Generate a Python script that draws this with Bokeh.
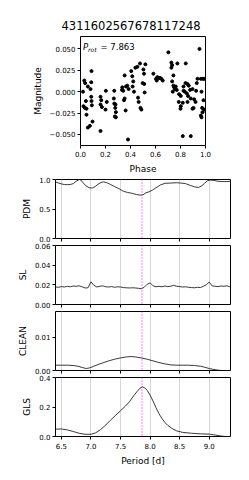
from bokeh.plotting import figure
from bokeh.models import (Range1d, FixedTicker, PrintfTickFormatter, CustomJSTickFormatter,
                          Span, Label, Title)
from bokeh.embed import file_html
from bokeh.resources import INLINE

star_id = "4311602567678117248"
prot = 7.863

# phase-folded light curve
phase = [0.02, 0.03, 0.037, 0.043, 0.024, 0.035, 0.048, 0.059, 0.048, 0.059, 0.075, 0.088, 0.086,
         0.08, 0.086, 0.088, 0.091, 0.096, 0.16, 0.166, 0.16, 0.171, 0.2, 0.203, 0.21, 0.16, 0.27,
         0.267, 0.27, 0.28, 0.278, 0.283, 0.275, 0.283, 0.334, 0.332, 0.342, 0.348, 0.353, 0.361,
         0.353, 0.38, 0.364, 0.374, 0.385, 0.406, 0.414, 0.422, 0.417, 0.428, 0.439, 0.455, 0.46,
         0.476, 0.465, 0.48, 0.487, 0.503, 0.508, 0.497, 0.519, 0.513, 0.51, 0.583, 0.604, 0.615,
         0.626, 0.636, 0.647, 0.658, 0.61, 0.703, 0.727, 0.733, 0.727, 0.743, 0.733, 0.743, 0.749,
         0.754, 0.762, 0.77, 0.775, 0.738, 0.789, 0.802, 0.786, 0.818, 0.802, 0.824, 0.834, 0.842,
         0.84, 0.856, 0.866, 0.85, 0.86, 0.877, 0.882, 0.896, 0.904, 0.92, 0.909, 0.925, 0.93,
         0.952, 0.936, 0.963, 0.979, 0.99, 0.968, 0.984, 0.973, 0.99, 0.976, 0.968, 0.963, 0.818,
         0.882, 0.80, 0.856, 0.896, 0.824]
mag = [0.0, 0.013, 0.010, -0.011, -0.017, -0.019, -0.020, 0.006, -0.027, -0.042, -0.040, 0.024,
       0.011, 0.003, -0.006, -0.011, -0.016, -0.035, -0.006, -0.010, -0.015, -0.018, -0.021, 0.001,
       -0.012, -0.046, 0.001, -0.008, -0.014, -0.015, -0.019, -0.024, -0.029, -0.030, 0.005, 0.002,
       0.001, -0.010, -0.008, -0.022, 0.019, -0.056, 0.006, 0.007, 0.003, 0.024, 0.018, 0.012,
       0.006, 0.0, 0.028, 0.029, -0.007, 0.033, -0.012, -0.019, -0.021, 0.026, 0.021, 0.010, 0.032,
       -0.001, 0.009, 0.021, 0.015, 0.017, 0.016, 0.016, 0.015, 0.013, 0.013, 0.046, 0.034, 0.031,
       0.028, 0.019, 0.012, 0.007, 0.005, 0.003, 0.006, 0.002, 0.033, 0.0, -0.003, -0.005, -0.012,
       -0.013, -0.017, 0.001, 0.0, 0.033, 0.010, 0.009, 0.007, -0.002, -0.005, 0.002, -0.008,
       -0.020, -0.019, -0.012, -0.009, 0.001, 0.010, 0.050, 0.015, 0.015, 0.015, 0.015, 0.0,
       -0.010, -0.019, -0.021, -0.024, -0.030, -0.028, -0.052, -0.052, -0.020, -0.012, 0.003, 0.006]

# PDM
pdm_period = [6.40, 6.45, 6.50, 6.55, 6.60, 6.65, 6.70, 6.75, 6.80, 6.83, 6.87, 6.92, 6.97, 7.02,
              7.07, 7.12, 7.17, 7.21, 7.27, 7.33, 7.40, 7.48, 7.55, 7.62, 7.70, 7.77, 7.83, 7.88,
              7.93, 7.98, 8.04, 8.10, 8.18, 8.25, 8.35, 8.45, 8.52, 8.60, 8.68, 8.75, 8.82, 8.87,
              8.92, 8.97, 9.02, 9.08, 9.15, 9.22, 9.30, 9.36]
pdm_theta = [0.96, 0.94, 0.925, 0.915, 0.912, 0.915, 0.93, 0.97, 1.0, 0.99, 0.94, 0.89, 0.86, 0.855,
             0.88, 0.92, 0.95, 0.96, 0.945, 0.915, 0.88, 0.84, 0.80, 0.78, 0.765, 0.745, 0.735,
             0.74, 0.775, 0.79, 0.82, 0.86, 0.91, 0.935, 0.94, 0.945, 0.94, 0.93, 0.90, 0.875,
             0.865, 0.89, 0.935, 0.98, 0.99, 0.985, 0.97, 0.965, 0.965, 0.97]

# String length
sl_period = [6.40, 6.45, 6.50, 6.55, 6.60, 6.65, 6.70, 6.75, 6.80, 6.85, 6.90, 6.95, 7.00, 7.05,
             7.10, 7.15, 7.20, 7.25, 7.30, 7.35, 7.40, 7.45, 7.50, 7.55, 7.60, 7.65, 7.70, 7.75,
             7.80, 7.85, 7.90, 7.95, 8.00, 8.05, 8.10, 8.15, 8.20, 8.25, 8.30, 8.35, 8.40, 8.45,
             8.50, 8.55, 8.60, 8.65, 8.70, 8.75, 8.80, 8.85, 8.90, 8.95, 9.00, 9.05, 9.10, 9.15,
             9.20, 9.25, 9.30, 9.35]
sl_value = [0.0178, 0.0175, 0.0182, 0.0178, 0.0185, 0.0180, 0.0188, 0.0185, 0.0190, 0.0180, 0.0168,
            0.0170, 0.0230, 0.0195, 0.0178, 0.0185, 0.0190, 0.0180, 0.0178, 0.0182, 0.0175, 0.0180,
            0.0178, 0.0172, 0.0170, 0.0168, 0.0170, 0.0168, 0.0165, 0.0160, 0.0175, 0.0205, 0.0220,
            0.0190, 0.0180, 0.0185, 0.0180, 0.0188, 0.0182, 0.0186, 0.0195, 0.0185, 0.0182, 0.0178,
            0.0180, 0.0175, 0.0172, 0.0170, 0.0175, 0.0172, 0.0185, 0.0200, 0.0228, 0.0190, 0.0185,
            0.0182, 0.0188, 0.0185, 0.0190, 0.0180]

# CLEAN
clean_period = [6.40, 6.50, 6.60, 6.70, 6.78, 6.85, 6.92, 6.98, 7.05, 7.12, 7.20, 7.30, 7.40, 7.50,
                7.60, 7.68, 7.75, 7.85, 7.95, 8.05, 8.15, 8.25, 8.35, 8.45, 8.55, 8.65, 8.75, 8.85,
                8.92, 9.00, 9.08, 9.15, 9.22, 9.30, 9.36]
clean_power = [0.0016, 0.0016, 0.0016, 0.0015, 0.0013, 0.0009, 0.0006, 0.0008, 0.0013, 0.0018,
               0.0023, 0.0029, 0.0034, 0.0038, 0.0041, 0.0042, 0.0041, 0.0038, 0.0034, 0.0029,
               0.0024, 0.0020, 0.0017, 0.0016, 0.0016, 0.0016, 0.0015, 0.0013, 0.0010, 0.0006,
               0.0003, 0.0001, 0.0, 0.0, 0.0]

# GLS
gls_period = [6.40, 6.50, 6.60, 6.70, 6.80, 6.90, 7.00, 7.08, 7.16, 7.25, 7.33, 7.42, 7.50, 7.58,
              7.65, 7.72, 7.78, 7.83, 7.87, 7.91, 7.95, 8.00, 8.05, 8.10, 8.15, 8.20, 8.25, 8.30,
              8.38, 8.45, 8.55, 8.70, 8.85, 9.00, 9.10, 9.20, 9.28, 9.36]
gls_power = [0.050, 0.051, 0.045, 0.034, 0.022, 0.015, 0.015, 0.025, 0.046, 0.078, 0.110, 0.145,
             0.175, 0.205, 0.235, 0.275, 0.305, 0.328, 0.336, 0.330, 0.313, 0.280, 0.240, 0.195,
             0.155, 0.122, 0.095, 0.075, 0.052, 0.038, 0.028, 0.022, 0.018, 0.016, 0.010, 0.003,
             0.0, 0.0]

period_ticks = [6.5, 7.0, 7.5, 8.0, 8.5, 9.0]

FONT = "DejaVu Sans"
TICK_FS = "7px"
LABEL_FS = "9px"
W = 249


def style(p):
    p.toolbar_location = None
    p.outline_line_color = "black"
    p.outline_line_width = 1
    p.background_fill_color = "white"
    p.border_fill_color = "white"
    for ax in p.xaxis + p.yaxis:
        ax.axis_line_color = None
        ax.major_tick_line_color = "black"
        ax.major_tick_out = 3
        ax.major_tick_in = 0
        ax.minor_tick_line_color = None
        ax.major_label_text_font = FONT
        ax.major_label_text_font_size = TICK_FS
        ax.major_label_text_color = "black"
        ax.major_label_standoff = 2
        ax.axis_label_text_font = FONT
        ax.axis_label_text_font_size = LABEL_FS
        ax.axis_label_text_font_style = "normal"
        ax.axis_label_text_color = "black"
        ax.axis_label_standoff = 4


# ---- phase-folded light curve
p1 = figure(width=W, height=176, output_backend="svg", toolbar_location=None,
            x_range=Range1d(0, 1), y_range=Range1d(-0.063, 0.0645),
            min_border_left=80, min_border_right=44, min_border_top=36, min_border_bottom=10)
p1.add_layout(Title(text=star_id, align="left", offset=-19, text_font=FONT,
                    text_font_size="11.5px", text_font_style="normal", text_color="black",
                    standoff=13), "above")
p1.scatter(phase, mag, size=3, color="black")
p1.grid.visible = False
style(p1)
p1.xaxis.ticker = FixedTicker(ticks=[0.0, 0.2, 0.4, 0.6, 0.8, 1.0])
p1.xaxis.formatter = PrintfTickFormatter(format="%.1f")
p1.yaxis.ticker = FixedTicker(ticks=[-0.05, -0.025, 0.0, 0.025, 0.05])
p1.yaxis.formatter = CustomJSTickFormatter(
    code="return (tick < -1e-9 ? '\u2212' : '') + Math.abs(tick).toFixed(3);")
p1.xaxis.axis_label = "Phase"
p1.yaxis.axis_label = "Magnitude"
p1.add_layout(Label(x=0, y=0.0645, x_offset=2.5, y_offset=-5, text="P", text_font=FONT,
                    text_font_style="italic", text_font_size="8.5px", text_baseline="top",
                    text_color="black"))
p1.add_layout(Label(x=0, y=0.0645, x_offset=7.5, y_offset=-9, text="rot", text_font=FONT,
                    text_font_style="italic", text_font_size="6px", text_baseline="top",
                    text_color="black"))
p1.add_layout(Label(x=0, y=0.0645, x_offset=20, y_offset=-5, text="= " + str(prot),
                    text_font=FONT, text_font_size="8.5px", text_baseline="top",
                    text_color="black"))

x_shared = Range1d(6.40, 9.36)


def panel(xs, ys, ylab, ymax, yticks, yfmt, bottom=False):
    h = 97 if bottom else 66
    p = figure(width=W, height=h, output_backend="svg", toolbar_location=None,
               x_range=x_shared, y_range=Range1d(0, ymax),
               min_border_left=55, min_border_right=19, min_border_top=3,
               min_border_bottom=35 if bottom else 4)
    p.line(xs, ys, line_color="#222222", line_width=0.9)
    p.add_layout(Span(location=prot, dimension="height", line_color="#ff00ff",
                      line_dash="1 2", line_width=1))
    style(p)
    p.ygrid.visible = False
    p.xgrid.grid_line_color = "#cccccc"
    p.xgrid.grid_line_width = 0.8
    p.xaxis.ticker = FixedTicker(ticks=period_ticks)
    p.xgrid.ticker = FixedTicker(ticks=period_ticks)
    p.yaxis.ticker = FixedTicker(ticks=yticks)
    p.yaxis.formatter = PrintfTickFormatter(format=yfmt)
    p.yaxis.axis_label = ylab
    if bottom:
        p.xaxis.formatter = PrintfTickFormatter(format="%.1f")
        p.xaxis.axis_label = "Period [d]"
        p.xaxis.major_label_standoff = 3
    else:
        p.xaxis.formatter = CustomJSTickFormatter(code="return '';")
        p.xaxis.major_label_standoff = 0
        p.xaxis.major_label_text_font_size = "1px"
    return p


p2 = panel(pdm_period, pdm_theta, "PDM", 1.0, [0.0, 0.5, 1.0], "%.1f")
p3 = panel(sl_period, sl_value, "SL", 0.06, [0.0, 0.02, 0.04, 0.06], "%.2f")
p4 = panel(clean_period, clean_power, "CLEAN", 0.0178, [0.0, 0.01], "%.2f")
p5 = panel(gls_period, gls_power, "GLS", 0.4, [0.0, 0.2, 0.4], "%.1f", bottom=True)

open("out.html", "w").write(file_html([p1, p2, p3, p4, p5], INLINE))
